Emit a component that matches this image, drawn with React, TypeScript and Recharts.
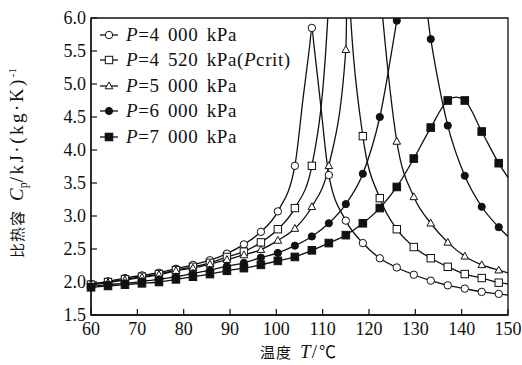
import React from "react";
import { LineChart, Line, XAxis, YAxis, Legend, ReferenceArea } from "recharts";

const SERIF = "Liberation Serif, Times New Roman, serif";
const CJK = "Noto Sans CJK SC, sans-serif";
const INK = "#111";

// temperatures where the markers sit (same for every series)
const TEMPS = [
  60, 63.67, 67.33, 71, 74.67, 78.33, 82, 85.67, 89.33, 93, 96.67, 100.33, 104,
  107.67, 111.33, 115, 118.67, 122.33, 126, 129.67, 133.33, 137, 140.67, 144.33, 148,
];

const CP_4000 = [
  1.97, 2.01, 2.06, 2.1, 2.14, 2.2, 2.26, 2.33, 2.43, 2.57, 2.76, 3.07, 3.76,
  5.85, 3.62, 2.93, 2.59, 2.36, 2.22, 2.11, 2.02, 1.95, 1.9, 1.85, 1.82,
];
const CP_4520 = [
  1.96, 2.0, 2.04, 2.08, 2.12, 2.18, 2.23, 2.29, 2.38, 2.46, 2.6, 2.8, 3.12,
  3.76, 6.3, 7.5, 4.21, 3.27, 2.8, 2.53, 2.36, 2.23, 2.12, 2.06, 1.99,
];
const CP_5000 = [
  1.96, 1.99, 2.03, 2.07, 2.11, 2.17, 2.21, 2.27, 2.34, 2.41, 2.49, 2.63, 2.81,
  3.14, 3.76, 5.52, 10, 6.5, 4.13, 3.29, 2.89, 2.6, 2.39, 2.26, 2.18,
];
const CP_6000 = [
  1.93, 1.96, 1.98, 2.01, 2.04, 2.08, 2.13, 2.18, 2.24, 2.29, 2.37, 2.44, 2.55,
  2.69, 2.89, 3.18, 3.64, 4.5, 5.96, 7.5, 5.68, 4.37, 3.61, 3.14, 2.83,
];
const CP_7000 = [
  1.92, 1.94, 1.96, 1.98, 2.0, 2.04, 2.08, 2.12, 2.17, 2.21, 2.26, 2.32, 2.38,
  2.48, 2.59, 2.71, 2.89, 3.12, 3.44, 3.87, 4.34, 4.75, 4.75, 4.28, 3.8,
];

// extra curve points (no marker drawn there)
const EXTRA_4000 = [[105.8, 4.8], [107.2, 5.58], [108.1, 5.6], [109.5, 4.73], [150, 1.8]];
const EXTRA_4520 = [[113.5, 14], [150, 1.97]];
const EXTRA_5000 = [[116.3, 14], [150, 2.14]];
const EXTRA_6000 = [[150, 2.69]];
const EXTRA_7000 = [[138.8, 4.8], [150, 3.58]];

const X_TICKS = [60, 70, 80, 90, 100, 110, 120, 130, 140, 150];
const Y_TICKS = [1.5, 2.0, 2.5, 3.0, 3.5, 4.0, 4.5, 5.0, 5.5, 6.0];

type Shape = "circle" | "square" | "triangle" | "dot" | "block";

function build(values: number[], extra: number[][]) {
  const pts = TEMPS.map((t, i) => ({ t, cp: values[i], mark: true }));
  extra.forEach(([t, cp]) => pts.push({ t, cp, mark: false }));
  return pts.sort((a, b) => a.t - b.t);
}

const SERIES: { key: string; p: string; crit?: boolean; shape: Shape; data: any[] }[] = [
  { key: "p4000", p: "4 000", shape: "circle", data: build(CP_4000, EXTRA_4000) },
  { key: "p4520", p: "4 520", crit: true, shape: "square", data: build(CP_4520, EXTRA_4520) },
  { key: "p5000", p: "5 000", shape: "triangle", data: build(CP_5000, EXTRA_5000) },
  { key: "p6000", p: "6 000", shape: "dot", data: build(CP_6000, EXTRA_6000) },
  { key: "p7000", p: "7 000", shape: "block", data: build(CP_7000, EXTRA_7000) },
];

function MarkerShape({ shape, cx, cy }: { shape: Shape; cx: number; cy: number }) {
  const sw = 1;
  switch (shape) {
    case "circle":
      return <circle cx={cx} cy={cy} r={3.7} fill="#fff" stroke={INK} strokeWidth={sw} />;
    case "square":
      return <rect x={cx - 3.7} y={cy - 3.7} width={7.4} height={7.4} fill="#fff" stroke={INK} strokeWidth={sw} />;
    case "triangle":
      return (
        <polygon
          points={`${cx},${cy - 4} ${cx - 3.8},${cy + 2.8} ${cx + 3.8},${cy + 2.8}`}
          fill="#fff"
          stroke={INK}
          strokeWidth={sw}
        />
      );
    case "dot":
      return <circle cx={cx} cy={cy} r={3.6} fill={INK} stroke={INK} strokeWidth={sw} />;
    default:
      return <rect x={cx - 3.8} y={cy - 3.8} width={7.6} height={7.6} fill={INK} stroke={INK} strokeWidth={sw} />;
  }
}

function dotFor(shape: Shape) {
  return (props: any) => {
    const k = `${shape}-${props.index}`;
    if (!props.payload?.mark || props.cx == null || props.cy == null) return <g key={k} />;
    return (
      <g key={k}>
        <MarkerShape shape={shape} cx={props.cx} cy={props.cy} />
      </g>
    );
  };
}

function LegendBox() {
  return (
    <div style={{ fontFamily: SERIF, fontSize: 19, letterSpacing: 0.6, wordSpacing: 3, color: INK }}>
      {SERIES.map((s) => (
        <div key={s.key} style={{ display: "flex", alignItems: "center", height: 25.5, whiteSpace: "nowrap" }}>
          <svg width={20} height={12} style={{ marginRight: 7 }}>
            <line x1={1} x2={19} y1={6} y2={6} stroke={INK} strokeWidth={1.3} />
            <MarkerShape shape={s.shape} cx={10} cy={6} />
          </svg>
          <span>
            <i>P</i>={s.p} kPa
            {s.crit && (
              <>
                (<i>P</i>crit)
              </>
            )}
          </span>
        </div>
      ))}
    </div>
  );
}

function YTitle() {
  return (
    <text transform="rotate(-90, 23, 163)" x={23} y={163} textAnchor="middle" fill={INK} fontSize={19}>
      <tspan fontFamily={CJK} fontSize={15} letterSpacing={1}>比热容</tspan>
      <tspan fontFamily={SERIF} dx={9} fontStyle="italic">C</tspan>
      <tspan fontFamily={SERIF} fontSize={12} dy={4}>p</tspan>
      <tspan fontFamily={SERIF} dy={-4} letterSpacing={2.5}>/kJ·(kg·K)</tspan>
      <tspan fontFamily={SERIF} fontSize={11} dy={-7}>-1</tspan>
    </text>
  );
}

function XTitle() {
  return (
    <text x={298} y={358} textAnchor="middle" fill={INK} fontSize={19}>
      <tspan fontFamily={CJK} fontSize={15} letterSpacing={1}>温度</tspan>
      <tspan fontFamily={SERIF} dx={8} fontStyle="italic">T</tspan>
      <tspan fontFamily={SERIF} dx={1}>/</tspan>
      <tspan fontFamily={CJK} fontSize={17} dx={2}>℃</tspan>
    </text>
  );
}

const tickStyle = { fontFamily: SERIF, fontSize: 18, fill: INK };

export default function App() {
  return (
    <div style={{ position: "absolute", left: 0, top: 0, background: "#fff" }}>
      <LineChart width={522} height={365} margin={{ top: 18, right: 14, left: 0, bottom: 0 }}>
        <XAxis
          type="number"
          dataKey="t"
          domain={[60, 150]}
          ticks={X_TICKS}
          height={50}
          tick={tickStyle}
          tickSize={-6}
          tickMargin={13}
          axisLine={{ stroke: INK, strokeWidth: 1.3 }}
          tickLine={{ stroke: INK, strokeWidth: 1.2 }}
          label={XTitle}
          allowDuplicatedCategory={false}
        />
        <YAxis
          type="number"
          dataKey="cp"
          domain={[1.5, 6]}
          allowDataOverflow
          ticks={Y_TICKS}
          width={91}
          tick={tickStyle}
          tickFormatter={(v: number) => v.toFixed(1)}
          tickSize={-6}
          tickMargin={11}
          axisLine={{ stroke: INK, strokeWidth: 1.3 }}
          tickLine={{ stroke: INK, strokeWidth: 1.2 }}
          label={YTitle}
        />
        <ReferenceArea x1={60} x2={150} y1={1.5} y2={6} fill="none" stroke={INK} strokeWidth={1.3} />
        {SERIES.map((s) => (
          <Line
            key={s.key}
            data={s.data}
            dataKey="cp"
            name={s.key}
            type="monotone"
            stroke={INK}
            strokeWidth={1.3}
            dot={dotFor(s.shape)}
            activeDot={false}
            isAnimationActive={false}
          />
        ))}
        <Legend
          layout="vertical"
          align="center"
          verticalAlign="middle"
          content={LegendBox}
          wrapperStyle={{ top: 22, left: 99, width: 240 }}
        />
      </LineChart>
    </div>
  );
}
